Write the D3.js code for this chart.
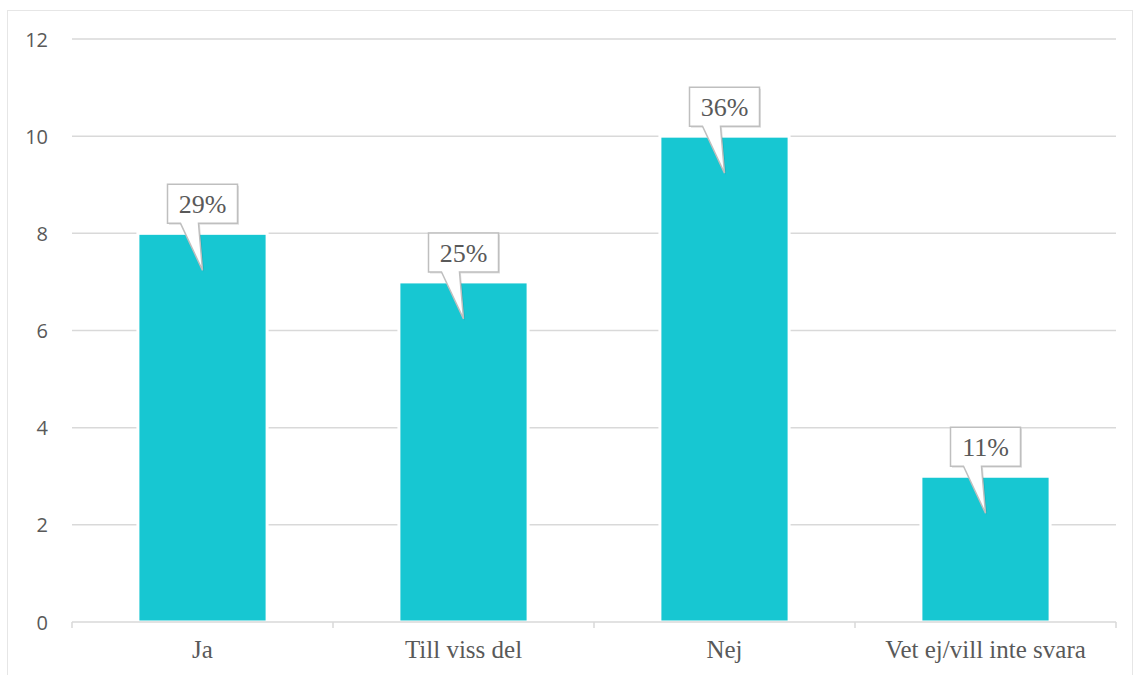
<!DOCTYPE html>
<html><head><meta charset="utf-8">
<script src="https://cdn.jsdelivr.net/npm/d3@7"></script>
<style>body{margin:0;background:#fff}svg{display:block}</style>
</head><body>
<svg id="c" width="1136" height="675"></svg>
<script>
const categories = ["Ja", "Till viss del", "Nej", "Vet ej/vill inte svara"];
const values = [8, 7, 10, 3];
const percentLabels = ["29%", "25%", "36%", "11%"];
const yTicks = [0, 2, 4, 6, 8, 10, 12];

const svg = d3.select("#c");
const m = {left: 72, right: 1116, top: 39, bottom: 622};

// outer border
svg.append("rect").attr("x", 7.5).attr("y", 10.5).attr("width", 1125).attr("height", 700)
  .attr("fill", "none").attr("stroke", "#e6e6e6").attr("stroke-width", 1);

const x = d3.scaleBand().domain(categories).range([m.left, m.right]).paddingInner(0).paddingOuter(0);
const y = d3.scaleLinear().domain([0, 12]).range([m.bottom, m.top]);

// gridlines
svg.append("g").selectAll("line").data(yTicks.filter(d => d > 0)).join("line")
  .attr("x1", m.left).attr("x2", m.right)
  .attr("y1", d => y(d)).attr("y2", d => y(d))
  .attr("stroke", "#d9d9d9").attr("stroke-width", 1.5);

// y labels
const yAxis = d3.axisLeft(y).tickValues(yTicks).tickSize(0).tickPadding(0);
const ya = svg.append("g").attr("transform", `translate(48,0)`).call(yAxis);
ya.select(".domain").remove();
ya.selectAll("text").attr("font-family", "'Open Sans', 'Noto Sans', sans-serif")
  .attr("font-size", 20).attr("fill", "#595959").attr("dy", "0.35em");

// bars
const bw = x.bandwidth() * 0.495;
svg.append("g").selectAll("rect").data(values).join("rect")
  .attr("x", (d, i) => x(categories[i]) + x.bandwidth() / 2 - bw / 2)
  .attr("y", d => y(d))
  .attr("width", bw)
  .attr("height", d => y(0) - y(d))
  .attr("fill", "#17c7d2")
  .attr("stroke", "#fff").attr("stroke-width", 3);

// x axis
const xAxis = d3.axisBottom(x).tickSize(0).tickPadding(0);
const xa = svg.append("g").attr("transform", `translate(0,${m.bottom})`).call(xAxis);
xa.select(".domain").remove();
svg.append("line").attr("x1", m.left).attr("x2", m.right).attr("y1", m.bottom).attr("y2", m.bottom)
  .attr("stroke", "#d9d9d9").attr("stroke-width", 1.5);
svg.append("g").selectAll("line").data(d3.range(categories.length + 1)).join("line")
  .attr("x1", i => m.left + i * x.step()).attr("x2", i => m.left + i * x.step())
  .attr("y1", m.bottom).attr("y2", m.bottom + 6)
  .attr("stroke", "#d9d9d9").attr("stroke-width", 1.5);
xa.selectAll("text").attr("font-family", "'Liberation Serif', 'DejaVu Serif', serif")
  .attr("font-size", 25).attr("fill", "#595959").attr("dy", "0").attr("y", 36);

// callouts
const cg = svg.append("g");
values.forEach((v, i) => {
  const cx = x(categories[i]) + x.bandwidth() / 2;
  const top = y(v);
  const bx0 = cx - 35, bx1 = cx + 35, by0 = top - 49, by1 = top - 10;
  const tipY = top + 37;
  const path = `M${bx0},${by0} L${bx1},${by0} L${bx1},${by1} L${cx - 4},${by1} L${cx},${tipY} L${cx - 22},${by1} L${bx0},${by1} Z`;
  cg.append("path").attr("d", path).attr("transform", "translate(1.5,1.5)")
    .attr("fill", "rgba(0,0,0,0.12)");
  cg.append("path").attr("d", path).attr("fill", "#fff").attr("stroke", "#bfbfbf").attr("stroke-width", 1.5);
  cg.append("text").attr("x", cx).attr("y", (by0 + by1) / 2).attr("dy", "0.35em")
    .attr("text-anchor", "middle")
    .attr("font-family", "'Liberation Serif', 'DejaVu Serif', serif")
    .attr("font-size", 26).attr("fill", "#595959").text(percentLabels[i]);
});
</script>
</body></html>
